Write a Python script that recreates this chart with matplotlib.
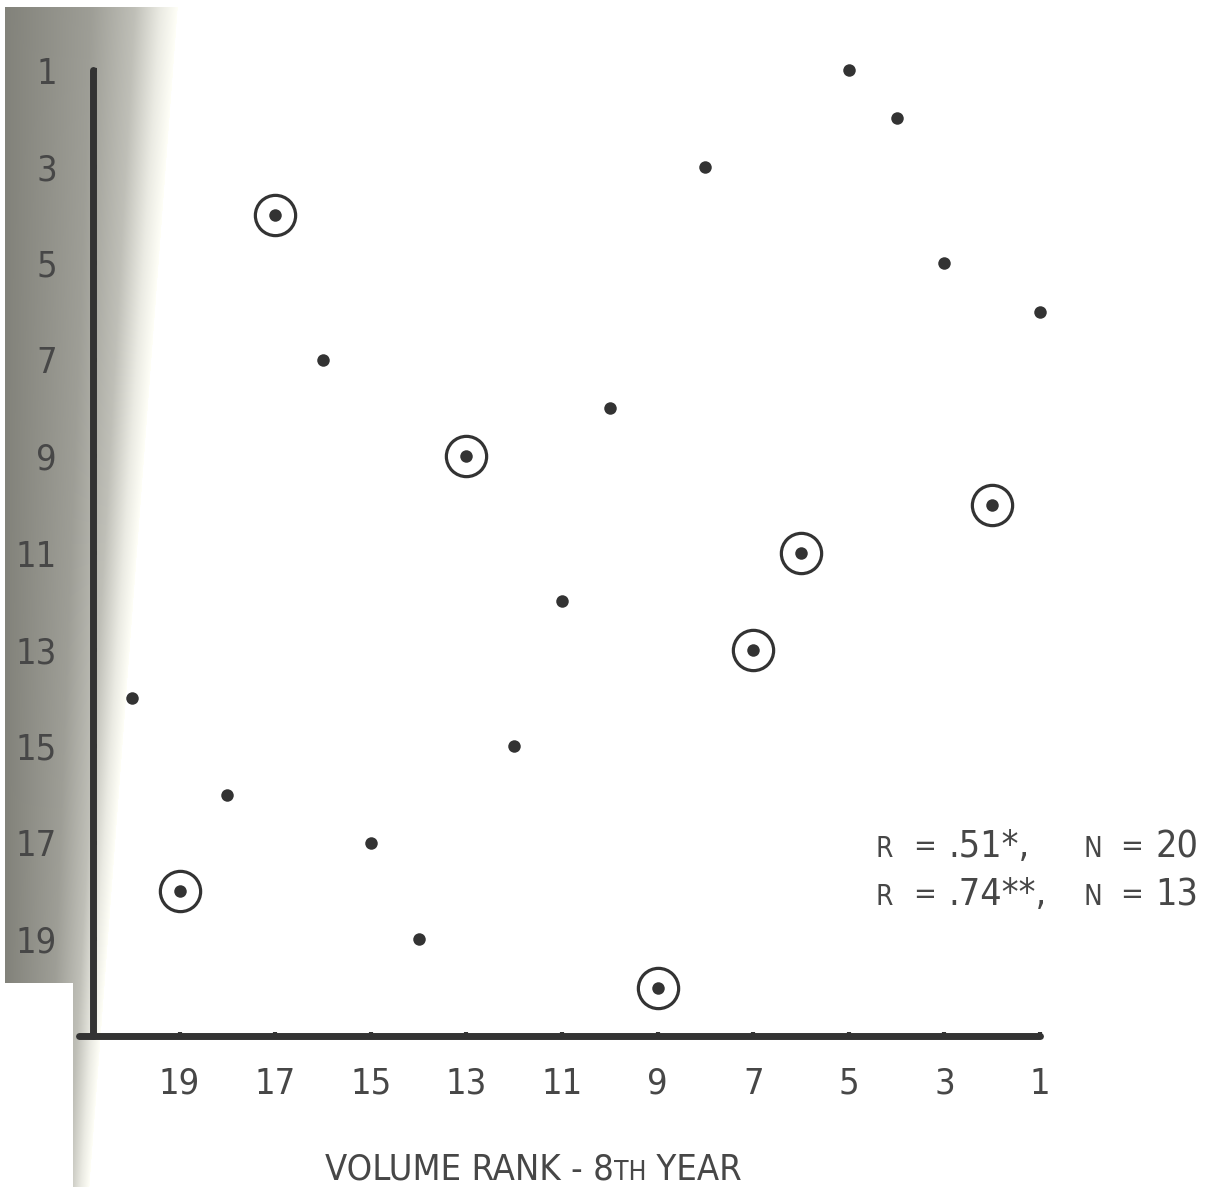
import numpy as np
import matplotlib
matplotlib.use("Agg")
import matplotlib.pyplot as plt

# ---------------- data ----------------
volume_rank_8th = [5, 4, 8, 17, 3, 1, 16, 10, 13, 2, 6, 11, 7, 20, 12, 18, 15, 19, 14, 9]
other_rank      = [1, 2, 3, 4, 5, 6, 7, 8, 9, 10, 11, 12, 13, 14, 15, 16, 17, 18, 19, 20]
circled         = [False, False, False, True, False, False, False, False, True, True,
                   True, False, True, False, False, False, False, True, False, True]
x_ticks = [19, 17, 15, 13, 11, 9, 7, 5, 3, 1]
y_ticks = [1, 3, 5, 7, 9, 11, 13, 15, 17, 19]
stat_lines = [(".51*,", "20"), (".74**,", "13")]
xlabel_parts = [("VOLUME RANK - 8", "big"), ("TH", "small"), (" YEAR", "big")]

# ---------------- style ----------------
W, H = 1211, 1187
plt.rcParams["font.family"] = ["DejaVu Sans"]
plt.rcParams["font.stretch"] = "condensed"
INK = "#333333"
TXT = "#474747"
BIG, SMALL = 26, 19
TICK = 26

fig = plt.figure(figsize=(W / 100, H / 100), dpi=100)
fig.patch.set_facecolor("white")

# scanned-page shadow on the left edge
yy, xx = np.mgrid[0:H, 0:W].astype(float)
edge = 178 - 0.075 * yy
t = np.clip((xx - 5) / (edge - 5), 0, 1)
v = np.interp(t, [0, 0.5, 0.75, 0.9, 1.0], [0.51, 0.62, 0.75, 0.92, 1.0])
b = v - 0.03 * (v < 0.999)
img = np.dstack([v, v, np.clip(b, 0, 1)])
mask = (xx < 5) | (yy < 7) | ((xx < 73) & (yy > 982))
img[mask] = 1.0
fig.figimage(img, xo=0, yo=0, origin="upper", zorder=0)

# ---------------- axes ----------------
ax_left_px, ax_right_px = 93, 1040
ax_top_px, ax_bot_px = 70, 1036
ax = fig.add_axes([ax_left_px / W, (H - ax_bot_px) / H,
                   (ax_right_px - ax_left_px) / W, (ax_bot_px - ax_top_px) / H])
ax.set_zorder(2)
ax.patch.set_alpha(0)
ax.set_xlim(1 + (ax_right_px - ax_left_px) / 47.8, 1)
ax.set_ylim(21, 1)

for s in ["top", "right"]:
    ax.spines[s].set_visible(False)
for s in ["left", "bottom"]:
    ax.spines[s].set_linewidth(5)
    ax.spines[s].set_color(INK)
    ax.spines[s].set_capstyle("round")
ax.spines["bottom"].set_bounds(21.1, 1)
ax.spines["left"].set_bounds(21, 1)

ax.set_xticks(x_ticks)
ax.set_yticks(y_ticks)
ax.tick_params(direction="in", length=3, width=3, color=INK,
               labelsize=TICK, labelcolor=TXT)
ax.tick_params(axis="x", pad=22)
ax.tick_params(axis="y", pad=26)

xs = np.array(volume_rank_8th)
ys = np.array(other_rank)
cm = np.array(circled)
ax.plot(xs, ys, "o", color=INK, ms=9, mec="none", clip_on=False, zorder=3)
ax.plot(xs[cm], ys[cm], "o", mfc="none", mec=INK, ms=29, mew=2.3,
        clip_on=False, zorder=3)

# ---------------- texts ----------------
def ftext(xpx, ypx, s, size, ha="left"):
    return fig.text(xpx / W, 1 - ypx / H, s, fontsize=size, color=TXT,
                    ha=ha, va="baseline", zorder=4)

baselines = [857, 905]
for (rval, nval), base in zip(stat_lines, baselines):
    ftext(875, base, "R", 20)
    ftext(913, base - 2, "=", 22)
    ftext(948, base, rval, 27)
    ftext(1083, base, "N", 20)
    ftext(1120, base - 2, "=", 22)
    ftext(1198, base, nval, 27, ha="right")

renderer = fig.canvas.get_renderer()
x = 325
for s, kind in xlabel_parts:
    tx = ftext(x, 1180, s, BIG if kind == "big" else SMALL)
    x = tx.get_window_extent(renderer).x1

fig.savefig("out.png", dpi=100)
